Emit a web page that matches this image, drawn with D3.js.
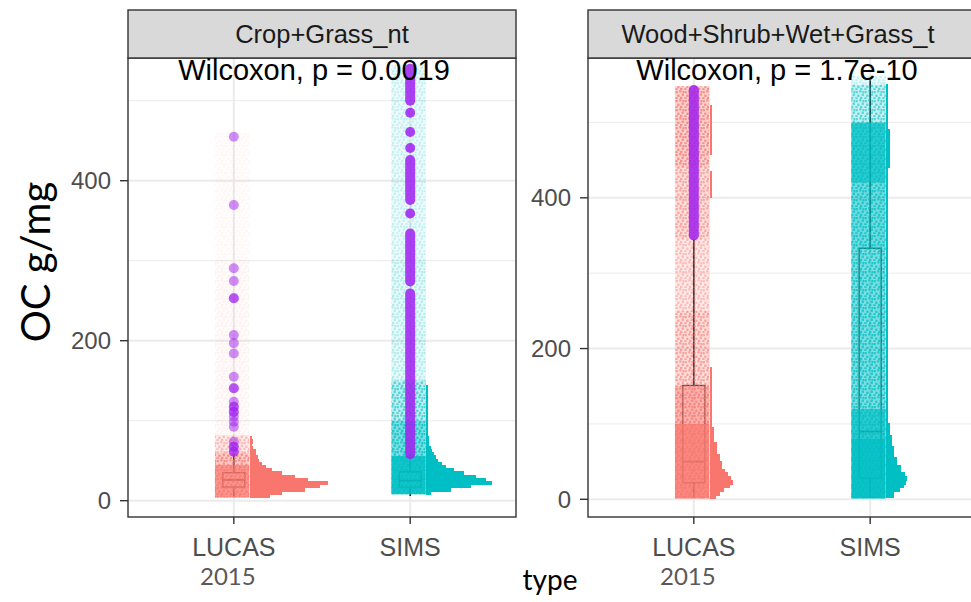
<!DOCTYPE html>
<html><head><meta charset="utf-8">
<script src="https://cdn.jsdelivr.net/npm/d3@7"></script>
<style>body{margin:0;background:#fff}</style>
</head><body><svg id="c" width="971" height="602"></svg>
<script>
// ---------------- data ----------------
const panels = ["Crop+Grass_nt", "Wood+Shrub+Wet+Grass_t"];
const types = ["LUCAS", "SIMS"];
const pLabels = ["Wilcoxon, p = 0.0019", "Wilcoxon, p = 1.7e-10"];
const yTicks = [0, 200, 400];
const yMinor = [100, 300, 500];
const yDomains = [[-20.4, 553.4], [-23.5, 585.5]];

// box stats: [lower whisker, q1, median, q3, upper whisker]
const boxCropLucas = [5, 17, 26, 35, 59];
const boxCropSims  = [6, 17, 25, 36, 58];
const boxWoodLucas = [2, 22, 50, 151, 345];
const boxWoodSims  = [2, 28, 90, 333, 556];

// single outliers (values)
const outCropLucas = [455, 369.6, 290.5, 274.6, 253, 253, 207, 196.7, 184, 155, 140.5, 140.5,
  123.7, 117.5, 117.5, 111, 111, 105, 98.7, 92.5, 73.7, 67.5, 67.5, 61.2, 61.2];
// dense runs of outliers [from, to]
const outRunsCropSims = [[58, 259], [274, 334], [359, 359], [376, 426], [441, 441], [461, 461], [485, 485], [500, 540]];
const outRunsWoodLucas = [[350, 543]];

// jittered points: density bands [from, to, density]
const jitCropLucas = [[4, 45, 0.85], [45, 60, 0.45], [60, 82, 0.22], [82, 300, 0.04], [300, 460, 0.025]];
const jitCropSims  = [[8, 56, 0.97], [56, 100, 0.6], [100, 150, 0.32], [150, 300, 0.13], [300, 545, 0.1]];
const jitWoodLucas = [[1, 100, 0.93], [100, 150, 0.62], [150, 250, 0.32], [250, 345, 0.22], [345, 440, 0.3], [440, 548, 0.4]];
const jitWoodSims  = [[1, 80, 1.0], [80, 120, 0.9], [120, 330, 0.6], [330, 420, 0.65], [420, 500, 0.9], [500, 550, 0.3], [550, 562, 0.1]];

// half histogram beside the points: [from, to, count]
const histCropLucas = [[4, 8, 20], [8, 12, 32], [12, 16, 55], [16, 20, 70], [20, 24, 78], [24, 28, 58], [28, 32, 45],
  [32, 36, 32], [36, 40, 22], [40, 44, 16], [44, 48, 12], [48, 52, 9], [52, 56, 8], [56, 60, 6], [60, 64, 6],
  [64, 68, 3], [68, 72, 2], [72, 76, 3], [76, 80, 2]];
const histCropSims = [[8, 12, 5], [12, 16, 25], [16, 20, 45], [20, 24, 66], [24, 28, 60], [28, 32, 50], [32, 36, 38],
  [36, 40, 28], [40, 44, 20], [44, 48, 16], [48, 52, 12], [52, 56, 10], [56, 60, 8], [60, 64, 6], [64, 68, 5],
  [68, 80, 3], [80, 100, 2], [100, 144, 1]];
const histWoodLucas = [[1, 5, 6], [5, 10, 10], [10, 15, 14], [15, 20, 20], [20, 25, 23], [25, 30, 21], [30, 35, 18],
  [35, 40, 15], [40, 50, 12], [50, 60, 10], [60, 75, 7], [75, 95, 4], [95, 110, 2], [110, 175, 1],
  [400, 435, 1], [457, 523, 1]];
const histWoodSims = [[3, 10, 8], [10, 15, 14], [15, 20, 18], [20, 25, 20], [25, 30, 21], [30, 35, 19], [35, 45, 15],
  [45, 55, 11], [55, 70, 8], [70, 85, 6], [85, 100, 4], [100, 104, 2], [104, 440, 1], [440, 490, 4], [490, 550, 1]];

const groups = [
  [ {box: boxCropLucas, out: outCropLucas, runs: [], jit: jitCropLucas, hist: histCropLucas},
    {box: boxCropSims, out: [], runs: outRunsCropSims, jit: jitCropSims, hist: histCropSims} ],
  [ {box: boxWoodLucas, out: [], runs: outRunsWoodLucas, jit: jitWoodLucas, hist: histWoodLucas},
    {box: boxWoodSims, out: [], runs: [], jit: jitWoodSims, hist: histWoodSims} ]
];

const typeColor = d3.scaleOrdinal().domain(types).range(["#F8766D", "#00BFC4"]);
const outColor = "#A020F0";

// ---------------- layout ----------------
const svg = d3.select("#c");
const panelX = [[128, 516], [588, 976]];
const pTop = 58, pBottom = 517, stripTop = 10;
const histScale = d3.scaleLinear().domain([0, 100]).range([0, 100]);

// texture patterns for jittered points
const defs = svg.append("defs");
types.forEach(t => {
  const p = defs.append("pattern").attr("id", "pat-" + t).attr("patternUnits", "userSpaceOnUse")
    .attr("width", 9).attr("height", 9);
  [[0.5, 1], [4.2, 0.2], [6.6, 3.6], [2.2, 4.6], [5, 6.8], [0.3, 7.2], [7.4, 0.9]].forEach(s =>
    p.append("rect").attr("x", s[0]).attr("y", s[1]).attr("width", 2.3).attr("height", 2.3)
      .attr("fill", typeColor(t)).attr("fill-opacity", 0.75));
});

panels.forEach((name, pi) => {
  const [x0, x1] = panelX[pi];
  const x = d3.scalePoint().domain(types).range([x0, x1]).padding(0.6);
  const step = x.step();
  const y = d3.scaleLinear().domain(yDomains[pi]).range([pBottom, pTop]);
  const g = svg.append("g");

  defs.append("clipPath").attr("id", "clip" + pi).append("rect")
    .attr("x", x0).attr("y", pTop).attr("width", x1 - x0).attr("height", pBottom - pTop);

  // panel background + grid
  g.append("rect").attr("x", x0).attr("y", pTop).attr("width", x1 - x0).attr("height", pBottom - pTop).attr("fill", "#fff");
  const grid = g.append("g").attr("clip-path", `url(#clip${pi})`);
  grid.selectAll(".mn").data(yMinor).join("line")
    .attr("x1", x0).attr("x2", x1).attr("y1", d => y(d)).attr("y2", d => y(d))
    .attr("stroke", "#EBEBEB").attr("stroke-width", 1);
  grid.selectAll(".mj").data(yTicks).join("line")
    .attr("x1", x0).attr("x2", x1).attr("y1", d => y(d)).attr("y2", d => y(d))
    .attr("stroke", "#EBEBEB").attr("stroke-width", 2);
  grid.selectAll(".vx").data(types).join("line")
    .attr("x1", d => x(d)).attr("x2", d => x(d)).attr("y1", pTop).attr("y2", pBottom)
    .attr("stroke", "#EBEBEB").attr("stroke-width", 2);

  const plot = g.append("g").attr("clip-path", `url(#clip${pi})`);

  types.forEach((t, ti) => {
    const d = groups[pi][ti];
    const cx = x(t);
    const col = typeColor(t);
    const bw = 0.125 * step;
    const b = d.box;
    // boxplot
    plot.append("line").attr("x1", cx).attr("x2", cx).attr("y1", y(b[0])).attr("y2", y(b[1]))
      .attr("stroke", "#222").attr("stroke-width", 1.6);
    plot.append("line").attr("x1", cx).attr("x2", cx).attr("y1", y(b[3])).attr("y2", y(b[4]))
      .attr("stroke", "#222").attr("stroke-width", 1.6);
    plot.append("rect").attr("x", cx - bw / 2).attr("width", bw).attr("y", y(b[3])).attr("height", y(b[1]) - y(b[3]))
      .attr("fill", "none").attr("stroke", "#333").attr("stroke-width", 1.4);
    plot.append("line").attr("x1", cx - bw / 2).attr("x2", cx + bw / 2).attr("y1", y(b[2])).attr("y2", y(b[2]))
      .attr("stroke", "#333").attr("stroke-width", 1.8);

    // jittered points (density bands)
    const jl = cx - 0.107 * step, jr = cx + 0.088 * step;
    d.jit.forEach(j => {
      plot.append("rect").attr("x", jl).attr("width", jr - jl).attr("y", y(j[1])).attr("height", y(j[0]) - y(j[1]))
        .attr("fill", col).attr("fill-opacity", Math.pow(j[2], 1.2) * 0.95);
      plot.append("rect").attr("x", jl).attr("width", jr - jl).attr("y", y(j[1])).attr("height", y(j[0]) - y(j[1]))
        .attr("fill", `url(#pat-${t})`).attr("opacity", Math.min(1, j[2] * 2.5));
    });

    // half histogram
    const hx = cx + 0.092 * step;
    plot.append("g").attr("shape-rendering", "crispEdges")
      .selectAll("rect").data(d.hist).join("rect")
      .attr("x", hx).attr("width", h => Math.max(1.5, histScale(h[2])))
      .attr("y", h => y(h[1]) - 0.5).attr("height", h => Math.max(1, y(h[0]) - y(h[1]) + 1))
      .attr("fill", col);
  });

  // stat label
  svg.append("text").attr("x", pi === 0 ? 314 : 777).attr("y", 80)
    .attr("text-anchor", "middle").attr("font-family", "Liberation Sans, Arial, sans-serif")
    .attr("font-size", 29).attr("fill", "#000").text(pLabels[pi]);

  // outliers on top
  types.forEach((t, ti) => {
    const d = groups[pi][ti];
    const cx = x(t);
    plot.selectAll(null).data(d.out).join("circle")
      .attr("cx", cx).attr("cy", v => y(v)).attr("r", 5)
      .attr("fill", outColor).attr("fill-opacity", 0.5);
    plot.selectAll(null).data(d.runs).join("rect")
      .attr("x", cx - 5).attr("width", 10)
      .attr("y", r => y(r[1]) - 5).attr("height", r => y(r[0]) - y(r[1]) + 10)
      .attr("rx", 5).attr("ry", 5)
      .attr("fill", outColor).attr("fill-opacity", 0.85);
  });

  // border
  g.append("rect").attr("x", x0).attr("y", pTop).attr("width", x1 - x0).attr("height", pBottom - pTop)
    .attr("fill", "none").attr("stroke", "#333").attr("stroke-width", 1.4);
  // strip
  g.append("rect").attr("x", x0).attr("y", stripTop).attr("width", x1 - x0).attr("height", pTop - stripTop)
    .attr("fill", "#D9D9D9").attr("stroke", "#333").attr("stroke-width", 1.4);
  g.append("text").attr("x", (x0 + x1) / 2 - (pi === 1 ? 4 : 0)).attr("y", (stripTop + pTop) / 2)
    .attr("dy", "0.35em").attr("text-anchor", "middle")
    .attr("font-family", "Liberation Sans, Arial, sans-serif").attr("font-size", 25.5)
    .attr("fill", "#1A1A1A").text(name);

  // y axis
  const ya = g.append("g");
  ya.selectAll("line").data(yTicks).join("line")
    .attr("x1", x0 - 8).attr("x2", x0).attr("y1", d => y(d)).attr("y2", d => y(d))
    .attr("stroke", "#333").attr("stroke-width", 1.4);
  ya.selectAll("text").data(yTicks).join("text")
    .attr("x", x0 - 17).attr("y", d => y(d)).attr("dy", "0.36em").attr("text-anchor", "end")
    .attr("font-family", "Liberation Sans, Arial, sans-serif").attr("font-size", 24)
    .attr("fill", "#4D4D4D").text(d => d);
  // x axis
  const xa = g.append("g");
  xa.selectAll("line").data(types).join("line")
    .attr("x1", d => x(d)).attr("x2", d => x(d)).attr("y1", pBottom).attr("y2", pBottom + 7)
    .attr("stroke", "#333").attr("stroke-width", 1.4);
  xa.selectAll("text").data(types).join("text")
    .attr("x", d => x(d)).attr("y", 556).attr("text-anchor", "middle")
    .attr("font-family", "Liberation Sans, Arial, sans-serif").attr("font-size", 25)
    .attr("fill", "#4D4D4D").text(d => d);
  // year annotation under LUCAS
  g.append("text").attr("x", x("LUCAS") - 6).attr("y", 585).attr("text-anchor", "middle")
    .attr("font-family", "Lato, sans-serif").attr("font-size", 24).attr("fill", "#595959").text("2015");
});

// axis titles
svg.append("text").attr("transform", "translate(50,262) rotate(-90)").attr("text-anchor", "middle")
  .attr("font-family", "Lato, sans-serif").attr("font-size", 40).attr("fill", "#000").text("OC g/mg");
svg.append("text").attr("x", 550).attr("y", 590).attr("text-anchor", "middle")
  .attr("font-family", "Lato, sans-serif").attr("font-size", 28).attr("fill", "#000").text("type");
</script></body></html>
